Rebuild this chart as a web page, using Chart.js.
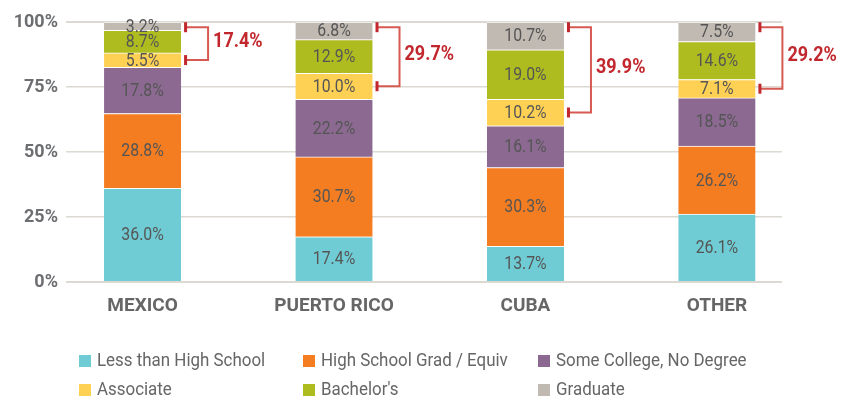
<!DOCTYPE html>
<html>
<head>
<meta charset="utf-8">
<script src="https://cdn.jsdelivr.net/npm/chart.js@4"></script>
<style>
  body { margin: 0; background: #fff; }
  #wrap { position: relative; width: 852px; height: 400px; }
  #legend {
    position: absolute; left: 79px; top: 349px;
    display: grid; grid-template-columns: 224px 235px auto; grid-auto-rows: 29px;
    font-family: Roboto, sans-serif;
    font-size: 18px; color: #666;
  }
  #legend div { white-space: nowrap; }
  #legend span.box { display: inline-block; width: 12px; height: 12px; margin-right: 6px; vertical-align: -1px; }
  #legend span.txt { display: inline-block; transform: scaleX(0.94); transform-origin: left center; }
</style>
</head>
<body>
<div id="wrap">
  <canvas id="chart" width="852" height="400"></canvas>
  <div id="legend"></div>
</div>
<script>
const categorias = ['MEXICO', 'PUERTO RICO', 'CUBA', 'OTHER'];
const lessHS     = [36.0, 17.4, 13.7, 26.1];
const hsGrad     = [28.8, 30.7, 30.3, 26.2];
const someCol    = [17.8, 22.2, 16.1, 18.5];
const associate  = [5.5, 10.0, 10.2, 7.1];
const bachelors  = [8.7, 12.9, 19.0, 14.6];
const graduate   = [3.2, 6.8, 10.7, 7.5];
const yTicks     = [0, 25, 50, 75, 100];

const fuente = 'Roboto, sans-serif';

const series = [
  { label: 'Less than High School', data: lessHS, color: '#6fccd4' },
  { label: 'High School Grad / Equiv', data: hsGrad, color: '#f47d21' },
  { label: 'Some College, No Degree', data: someCol, color: '#8b6991' },
  { label: 'Associate', data: associate, color: '#fed155' },
  { label: "Bachelor's", data: bachelors, color: '#aebc1f' },
  { label: 'Graduate', data: graduate, color: '#c1bab3' }
];

const toPoints = arr => arr.map((v, i) => ({ x: i, y: v }));

// texto comprimido en horizontal (la fuente original es condensada)
function textoAngosto(ctx, txt, x, y, sx) {
  ctx.save();
  ctx.translate(x, y);
  ctx.scale(sx, 1);
  ctx.fillText(txt, 0, 0);
  ctx.restore();
}

// etiquetas dentro de cada segmento
const barLabels = {
  id: 'barLabels',
  afterDatasetsDraw(chart) {
    const ctx = chart.ctx;
    ctx.save();
    ctx.font = '18px ' + fuente;
    ctx.fillStyle = '#555';
    ctx.textAlign = 'center';
    ctx.textBaseline = 'middle';
    chart.data.datasets.forEach((ds, d) => {
      chart.getDatasetMeta(d).data.forEach((el, i) => {
        textoAngosto(ctx, ds.data[i].y.toFixed(1) + '%', el.x, (el.y + el.base) / 2 + 1, 0.88);
      });
    });
    ctx.restore();
  }
};

// corchetes rojos: associate + bachelor's + graduate
const brackets = {
  id: 'brackets',
  afterDatasetsDraw(chart) {
    const ctx = chart.ctx;
    const yScale = chart.scales.y;
    const metaAssoc = chart.getDatasetMeta(3);
    ctx.save();
    categorias.forEach((c, i) => {
      const el = metaAssoc.data[i];
      const right = el.x + el.width / 2;
      const x0 = right + 4;
      const vx = right + 27;
      const yTop = yScale.getPixelForValue(98);
      const yBot = (el.y + el.base) / 2;
      ctx.strokeStyle = '#d65a52';
      ctx.lineWidth = 2;
      ctx.beginPath();
      ctx.moveTo(x0, yTop);
      ctx.lineTo(vx, yTop);
      ctx.lineTo(vx, yBot);
      ctx.lineTo(x0, yBot);
      ctx.stroke();
      ctx.fillStyle = '#c1272d';
      ctx.fillRect(x0 - 1, yTop - 5, 3, 10);
      ctx.fillRect(x0 - 1, yBot - 5, 3, 10);
      const total = associate[i] + bachelors[i] + graduate[i];
      ctx.font = 'bold 20px ' + fuente;
      ctx.textAlign = 'left';
      ctx.textBaseline = 'middle';
      textoAngosto(ctx, total.toFixed(1) + '%', vx + 5, (yTop + yBot) / 2 - 2, 0.9);
    });
    ctx.restore();
  }
};

const chart = new Chart(document.getElementById('chart'), {
  type: 'bar',
  data: {
    datasets: series.map(s => ({
      label: s.label,
      data: toPoints(s.data),
      backgroundColor: s.color,
      borderColor: '#ffffff',
      borderWidth: { top: 1, left: 0, right: 0, bottom: 0 },
      borderSkipped: false,
      barThickness: 77
    }))
  },
  options: {
    responsive: false,
    animation: false,
    layout: { padding: { top: 22, right: 70, left: 0, bottom: 0 } },
    plugins: { legend: { display: false }, tooltip: { enabled: false } },
    scales: {
      x: {
        type: 'linear',
        stacked: true,
        offset: false,
        min: -0.4,
        max: 3.34,
        afterBuildTicks: scale => { scale.ticks = categorias.map((c, i) => ({ value: i })); },
        afterFit: scale => { scale.height = 118; },
        grid: { display: false, drawTicks: false },
        border: { display: false },
        ticks: {
          padding: 13,
          color: '#666',
          font: { family: fuente, size: 19, weight: 'bold' },
          callback: v => categorias[v]
        }
      },
      y: {
        stacked: true,
        min: 0,
        max: 100,
        afterBuildTicks: scale => { scale.ticks = yTicks.map(v => ({ value: v })); },
        afterFit: scale => { scale.width = 66; },
        grid: {
          drawTicks: false,
          color: '#dcd8d2',
          lineWidth: ctx => (ctx.tick && (ctx.tick.value === 100 || ctx.tick.value === 0)) ? 2 : 1.5
        },
        border: { display: false },
        ticks: {
          padding: 8,
          color: '#6d6e71',
          font: { family: fuente, size: 18, weight: 'bold' },
          callback: v => v + '%'
        }
      }
    }
  },
  plugins: [barLabels, brackets]
});

// leyenda en html, 3 columnas
const legend = document.getElementById('legend');
series.forEach(s => {
  const item = document.createElement('div');
  item.innerHTML = '<span class="box" style="background:' + s.color + '"></span><span class="txt">' + s.label + '</span>';
  legend.appendChild(item);
});
</script>
</body>
</html>
